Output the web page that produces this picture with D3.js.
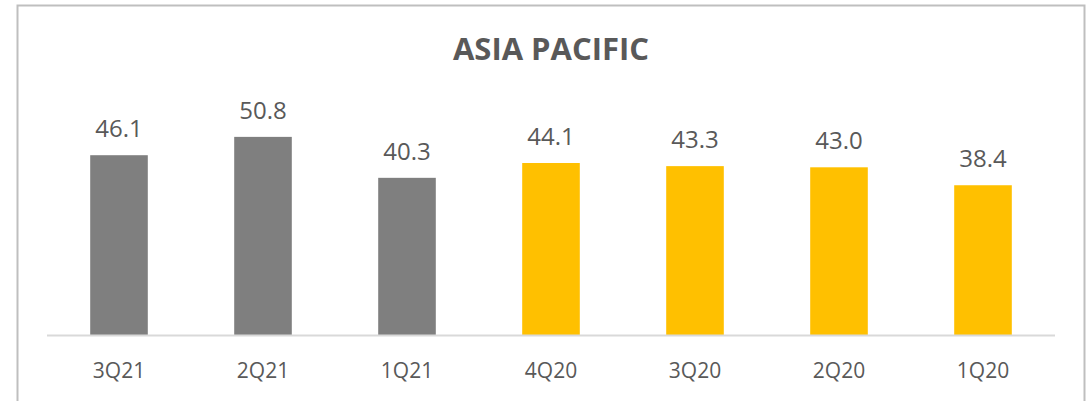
<!DOCTYPE html>
<html>
<head>
<meta charset="utf-8">
<script src="https://cdn.jsdelivr.net/npm/d3@7"></script>
<style>
  html, body { margin: 0; padding: 0; background: #fff; }
  svg { display: block; }
</style>
</head>
<body>
<svg id="chart" width="1088" height="401"></svg>
<script>
// Quarterly values, most recent first
const quarters = ["3Q21", "2Q21", "1Q21", "4Q20", "3Q20", "2Q20", "1Q20"];
const values = [46.1, 50.8, 40.3, 44.1, 43.3, 43.0, 38.4];
const years = ["2021", "2021", "2021", "2020", "2020", "2020", "2020"];
const yDomain = [0, 60];

const yearColor = { "2021": "#7F7F7F", "2020": "#FFC000" };
const textColor = "#595959";
const font = "'Open Sans', 'Noto Sans', sans-serif";

const svg = d3.select("#chart");

// outer frame (bottom edge runs off the canvas)
svg.append("path")
  .attr("d", "M17.5,410 V5.5 H1084.5 V410")
  .attr("fill", "none")
  .attr("stroke", "#BFBFBF")
  .attr("stroke-width", 2);

const plot = { left: 47, right: 1055, top: 101, bottom: 335 };

const x = d3.scaleBand()
  .domain(quarters)
  .range([plot.left, plot.right])
  .paddingInner(0.6)
  .paddingOuter(0.3);

const y = d3.scaleLinear()
  .domain(yDomain)
  .range([plot.bottom, plot.top]);

const data = quarters.map((q, i) => ({ q, v: values[i], yr: years[i] }));

// title
svg.append("text")
  .attr("x", (plot.left + plot.right) / 2)
  .attr("y", 60)
  .attr("text-anchor", "middle")
  .attr("font-family", font)
  .attr("font-weight", 700)
  .attr("font-size", 31)
  .attr("fill", textColor)
  .text("ASIA PACIFIC");

// bars
svg.append("g").selectAll("rect")
  .data(data)
  .join("rect")
  .attr("x", d => x(d.q))
  .attr("width", x.bandwidth())
  .attr("y", d => y(d.v))
  .attr("height", d => y(0) - y(d.v))
  .attr("fill", d => yearColor[d.yr]);

// value labels
svg.append("g").selectAll("text")
  .data(data)
  .join("text")
  .attr("x", d => x(d.q) + x.bandwidth() / 2)
  .attr("y", d => y(d.v) - 18)
  .attr("text-anchor", "middle")
  .attr("font-family", font)
  .attr("font-size", 24)
  .attr("fill", textColor)
  .text(d => d.v.toFixed(1));

// category axis
const xAxis = svg.append("g")
  .attr("transform", `translate(0,${plot.bottom})`)
  .call(d3.axisBottom(x).tickSize(0).tickPadding(0));
xAxis.select(".domain")
  .attr("d", `M${plot.left},0.5H${plot.right}`)
  .attr("stroke", "#D9D9D9")
  .attr("stroke-width", 2);
xAxis.selectAll(".tick text")
  .attr("dy", null)
  .attr("y", 43)
  .attr("font-family", font)
  .attr("font-size", 21)
  .attr("fill", textColor);
</script>
</body>
</html>
